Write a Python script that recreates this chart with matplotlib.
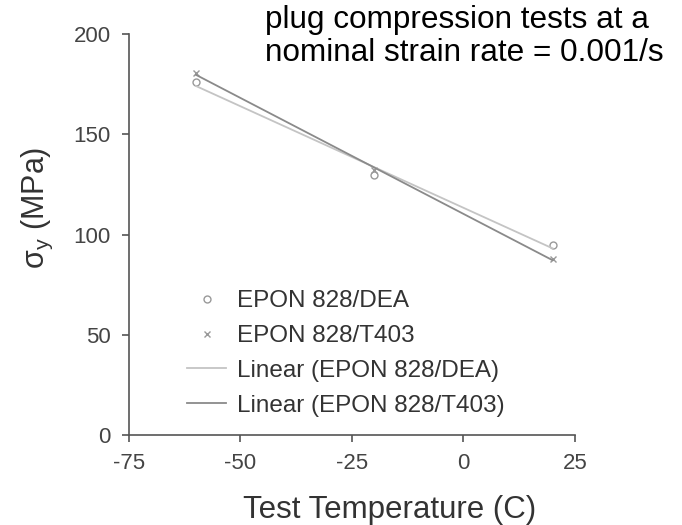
import numpy as np
import matplotlib
matplotlib.use('Agg')
import matplotlib.pyplot as plt

plt.rcParams['font.family'] = ['Liberation Sans', 'DejaVu Sans']
plt.rcParams['mathtext.fontset'] = 'custom'
plt.rcParams['mathtext.rm'] = 'Liberation Sans'
plt.rcParams['mathtext.it'] = 'Liberation Sans:italic'
plt.rcParams['axes.unicode_minus'] = False

# Données
temperature = [-60, -20, 20]
sigma_dea = [176, 130, 95]
sigma_t403 = [180.5, 132, 88]

x_ticks = [-75, -50, -25, 0, 25]
y_ticks = [0, 50, 100, 150, 200]

fig = plt.figure(figsize=(6.82, 5.25), dpi=100)
ax = fig.add_axes([0.189, 0.171, 0.654, 0.764])

ax.plot(temperature, sigma_dea, linestyle='none', marker='o', ms=5, mfc='none',
        mec='#999999', mew=1.0, label='EPON 828/DEA')
ax.plot(temperature, sigma_t403, linestyle='none', marker='x', ms=5,
        mec='#999999', mew=1.0, label='EPON 828/T403')

# régressions linéaires
t = np.array(temperature)
p1 = np.polyfit(temperature, sigma_dea, 1)
p2 = np.polyfit(temperature, sigma_t403, 1)
ax.plot(t, np.polyval(p1, t), color='#c4c4c4', lw=1.3, label='Linear (EPON 828/DEA)')
ax.plot(t, np.polyval(p2, t), color='#8a8a8a', lw=1.3, label='Linear (EPON 828/T403)')

ax.set_xlim(-75, 25)
ax.set_ylim(0, 200)
ax.set_xticks(x_ticks)
ax.set_yticks(y_ticks)
for s in ['top', 'right']:
    ax.spines[s].set_visible(False)
for s in ['left', 'bottom']:
    ax.spines[s].set_color('#555555')
    ax.spines[s].set_linewidth(1.2)
ax.tick_params(colors='#555555', labelcolor='#444444', labelsize=16, length=5,
               width=1.2, pad=8)

ax.set_xlabel('Test Temperature (C)', fontsize=22.5, color='#333333')
ax.xaxis.set_label_coords(0.584, -0.15)
ax.set_ylabel(r'$\mathregular{\sigma_y}$ (MPa)', fontsize=22, color='#333333', va='center')
ax.yaxis.set_label_coords(-0.206, 0.568)

leg = ax.legend(loc='upper left', bbox_to_anchor=(175 / 682, 1 - 278 / 525),
                bbox_transform=fig.transFigure, frameon=False, fontsize=17.5,
                handlelength=1.6, handletextpad=0.45, labelspacing=0.53,
                borderpad=0)
for txt in leg.get_texts():
    txt.set_color('#333333')

fig.text(265 / 682, 0.99, 'plug compression tests at a\nnominal strain rate = 0.001/s',
         ha='left', va='top', fontsize=22.7, color='black', linespacing=1.12)

plt.savefig('out.png', dpi=100)
